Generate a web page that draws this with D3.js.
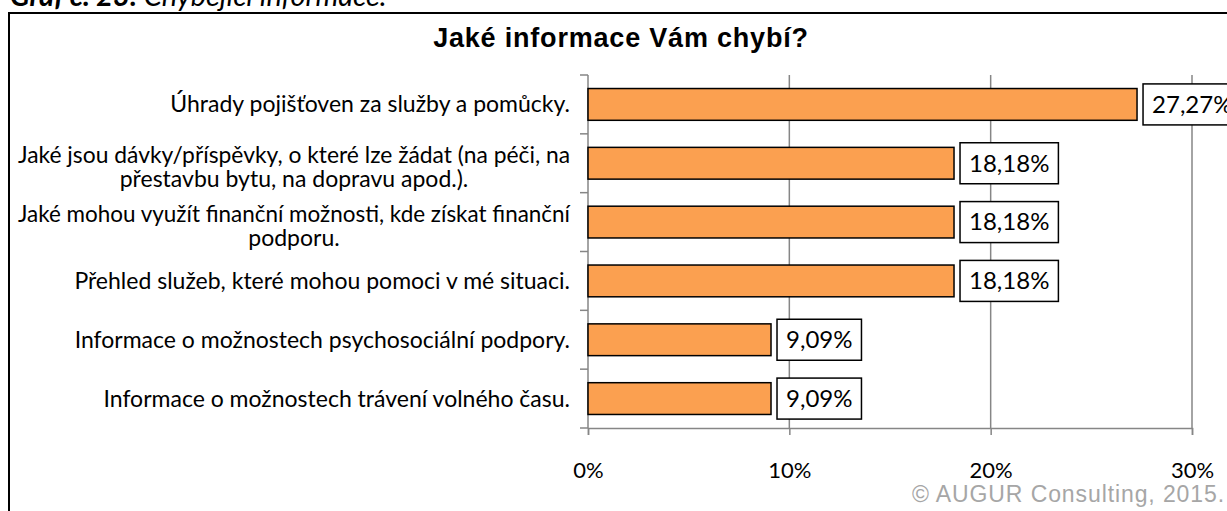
<!DOCTYPE html>
<html>
<head>
<meta charset="utf-8">
<script src="https://cdn.jsdelivr.net/npm/d3@7"></script>
<style>
  body { margin: 0; background: #fff; overflow: hidden; }
</style>
</head>
<body>
<div id="chart"></div>
<script>
// data
const categories = [
    ["Úhrady pojišťoven za služby a pomůcky."],
    ["Jaké jsou dávky/příspěvky, o které lze žádat (na péči, na", "přestavbu bytu, na dopravu apod.)."],
    ["Jaké mohou využít finanční možnosti, kde získat finanční", "podporu."],
    ["Přehled služeb, které mohou pomoci v mé situaci."],
    ["Informace o možnostech psychosociální podpory."],
    ["Informace o možnostech trávení volného času."]
];
const values = [27.27, 18.18, 18.18, 18.18, 9.09, 9.09];
const valueLabels = ["27,27%", "18,18%", "18,18%", "18,18%", "9,09%", "9,09%"];
const xTicks = [0, 10, 20, 30];

const width = 1227, height = 511;
const plot = {left: 588, right: 1192, top: 75, bottom: 428};
const labelFont = "Lato, 'Open Sans', sans-serif";
const arial = "'Liberation Sans', Arial, sans-serif";

const svg = d3.select("#chart").append("svg")
    .attr("width", width)
    .attr("height", height);

// caption above the frame (cut off at page top, like in the source)
const cap = svg.append("text")
    .attr("x", 10).attr("y", 6)
    .style("font-family", labelFont)
    .style("font-size", "29px")
    .style("font-style", "italic");
cap.append("tspan").style("font-weight", "bold").text("Graf č. 23: ");
cap.append("tspan").text("Chybějící informace.");

// frame
svg.append("rect")
    .attr("x", 9).attr("y", 13)
    .attr("width", 1240).attr("height", 520)
    .attr("fill", "none")
    .attr("stroke", "#000")
    .attr("stroke-width", 2);

svg.append("text")
    .attr("x", 621).attr("y", 47)
    .attr("text-anchor", "middle")
    .style("font-family", arial)
    .style("font-weight", "bold")
    .style("font-size", "27px")
    .style("letter-spacing", "0.8px")
    .text("Jaké informace Vám chybí?");

const x = d3.scaleLinear().domain([0, 30]).range([plot.left, plot.right]);
const y = d3.scaleBand()
    .domain(d3.range(categories.length))
    .range([plot.top, plot.bottom])
    .paddingInner(0.46)
    .paddingOuter(0.23);

// vertical gridlines
svg.append("g").selectAll("line")
    .data(xTicks.slice(1))
    .join("line")
    .attr("x1", d => x(d)).attr("x2", d => x(d))
    .attr("y1", plot.top).attr("y2", plot.bottom)
    .attr("stroke", "#868686")
    .attr("stroke-width", 1.5);

// x axis
const xAxis = svg.append("g")
    .attr("transform", `translate(0,${plot.bottom})`)
    .call(d3.axisBottom(x).tickValues(xTicks).tickSize(7).tickFormat(d => d + "%"));
xAxis.select(".domain").attr("stroke", "#868686").attr("stroke-width", 1.5);
xAxis.selectAll(".tick line").attr("stroke", "#868686").attr("stroke-width", 1.5);
xAxis.selectAll(".tick text")
    .attr("y", 34)
    .style("font-family", labelFont)
    .style("font-size", "22px")
    .attr("fill", "#000");

// y axis: ticks between categories
const bounds = d3.range(categories.length + 1)
    .map(i => plot.top + i * (plot.bottom - plot.top) / categories.length);
svg.append("line")
    .attr("x1", plot.left).attr("x2", plot.left)
    .attr("y1", plot.top).attr("y2", plot.bottom)
    .attr("stroke", "#868686").attr("stroke-width", 1.5);
svg.append("g").selectAll("line")
    .data(bounds)
    .join("line")
    .attr("x1", plot.left - 8).attr("x2", plot.left)
    .attr("y1", d => d).attr("y2", d => d)
    .attr("stroke", "#868686").attr("stroke-width", 1.5);

// bars
svg.append("g").selectAll("rect")
    .data(values)
    .join("rect")
    .attr("x", x(0))
    .attr("y", (d, i) => y(i))
    .attr("width", d => x(d) - x(0))
    .attr("height", y.bandwidth())
    .attr("fill", "#FBA050")
    .attr("stroke", "#000")
    .attr("stroke-width", 1.5);

// value label boxes
const lab = svg.append("g").selectAll("g")
    .data(values)
    .join("g")
    .attr("transform", (d, i) => `translate(${x(d) + 6},${y(i) + y.bandwidth() / 2})`);
lab.append("text")
    .attr("x", 0).attr("y", 0)
    .attr("dy", "0.35em")
    .style("font-family", labelFont)
    .style("font-size", "24px")
    .text((d, i) => valueLabels[i]);
lab.each(function() {
    const g = d3.select(this);
    const t = g.select("text");
    const w = t.node().getComputedTextLength();
    t.attr("x", 9);
    g.insert("rect", "text")
        .attr("x", 0).attr("y", -20.5)
        .attr("width", w + 18).attr("height", 41)
        .attr("fill", "#fff")
        .attr("stroke", "#000")
        .attr("stroke-width", 1.5);
});

// category labels, right aligned block, lines centered inside it
const right = 570, lineH = 24, maxLine = 552;
categories.forEach((lines, i) => {
    const cy = y(i) + y.bandwidth() / 2 + (lines.length - 1) * 4;
    const g = svg.append("g");
    const texts = lines.map((s, j) => g.append("text")
        .attr("y", cy + (j - (lines.length - 1) / 2) * lineH)
        .attr("dy", "0.35em")
        .style("font-family", labelFont)
        .style("font-size", "23px")
        .text(s));
    texts.forEach(t => {
        if (t.node().getComputedTextLength() > maxLine)
            t.attr("textLength", maxLine).attr("lengthAdjust", "spacingAndGlyphs");
    });
    const maxW = d3.max(texts, t => Math.min(maxLine, t.node().getComputedTextLength()));
    texts.forEach(t => t.attr("x", right - maxW / 2).attr("text-anchor", "middle"));
});

svg.append("text")
    .attr("x", 1225).attr("y", 502)
    .attr("text-anchor", "end")
    .style("font-family", arial)
    .style("font-size", "23px")
    .style("letter-spacing", "0.9px")
    .attr("fill", "#a6a6a6")
    .text("© AUGUR Consulting, 2015.");
</script>
</body>
</html>
